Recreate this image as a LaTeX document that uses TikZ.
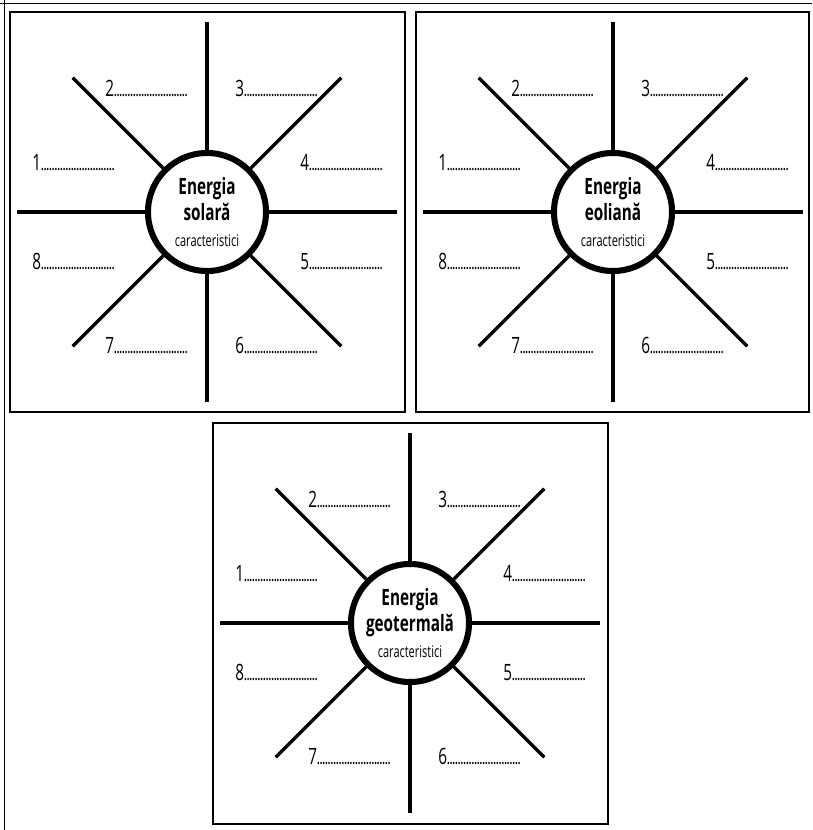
\documentclass[tikz,border=0pt]{standalone}
\usepackage{fontspec}
\newfontfamily\narrowsans[FakeStretch=0.68]{Open Sans}

\begin{document}
\begin{tikzpicture}[
    x=0.025cm, y=-0.025cm,
    frame/.style={draw=black, line width=1.8pt},
    edge/.style={draw=black, line width=0.7pt},
    ray/.style={draw=black, line width=2.3pt},
    hub/.style={
        circle, draw=black, line width=4.3pt,
        fill=white, text=black,
        minimum size=2.95cm, inner sep=0pt,
        align=center,
        font=\narrowsans\bfseries\fontsize{16}{18.5}\selectfont,
    },
    blank/.style={
        anchor=base west, inner sep=0pt,
        font=\narrowsans\fontsize{16}{16}\selectfont,
    },
]
\useasboundingbox (0,0) rectangle (812,830);

% outer edges of the sheet
\draw[edge] (0,3) -- (812,3);
\draw[edge] (4,0) -- (4,830);

% three panels
\draw[frame] (10,12) rectangle (405,412);
\draw[frame] (416,12) rectangle (809,412);
\draw[frame] (213,423) rectangle (608,824);

\foreach \p/\cx/\cy/\name in {sol/207/212/{Energia\\solară},
                              eol/613/212/{Energia\\eoliană},
                              geo/410/623/{Energia\\geotermală}} {
    \node[hub] (\p) at (\cx,\cy)
        {\name\\{\mdseries\fontsize{11.5}{18.5}\selectfont caracteristici}};
    % eight rays round the hub
    \foreach \a in {0,45,...,315} {
        \path (\p.center) ++(\a:190) coordinate (\p-end\a);
        \draw[ray] (\p) -- (\p-end\a);
    }
    % numbered blanks
    \foreach \n/\dx/\dy in {1/-175/-42, 2/-102/-116, 3/28/-116, 4/93/-42,
                            5/93/57, 6/28/141, 7/-102/141, 8/-175/57}
        \node[blank] (\p-\n) at ([shift={(\dx,\dy)}]\p.center)
            {\n{\fontsize{10}{10}\selectfont\bfseries ...........................}};
}

\end{tikzpicture}
\end{document}
